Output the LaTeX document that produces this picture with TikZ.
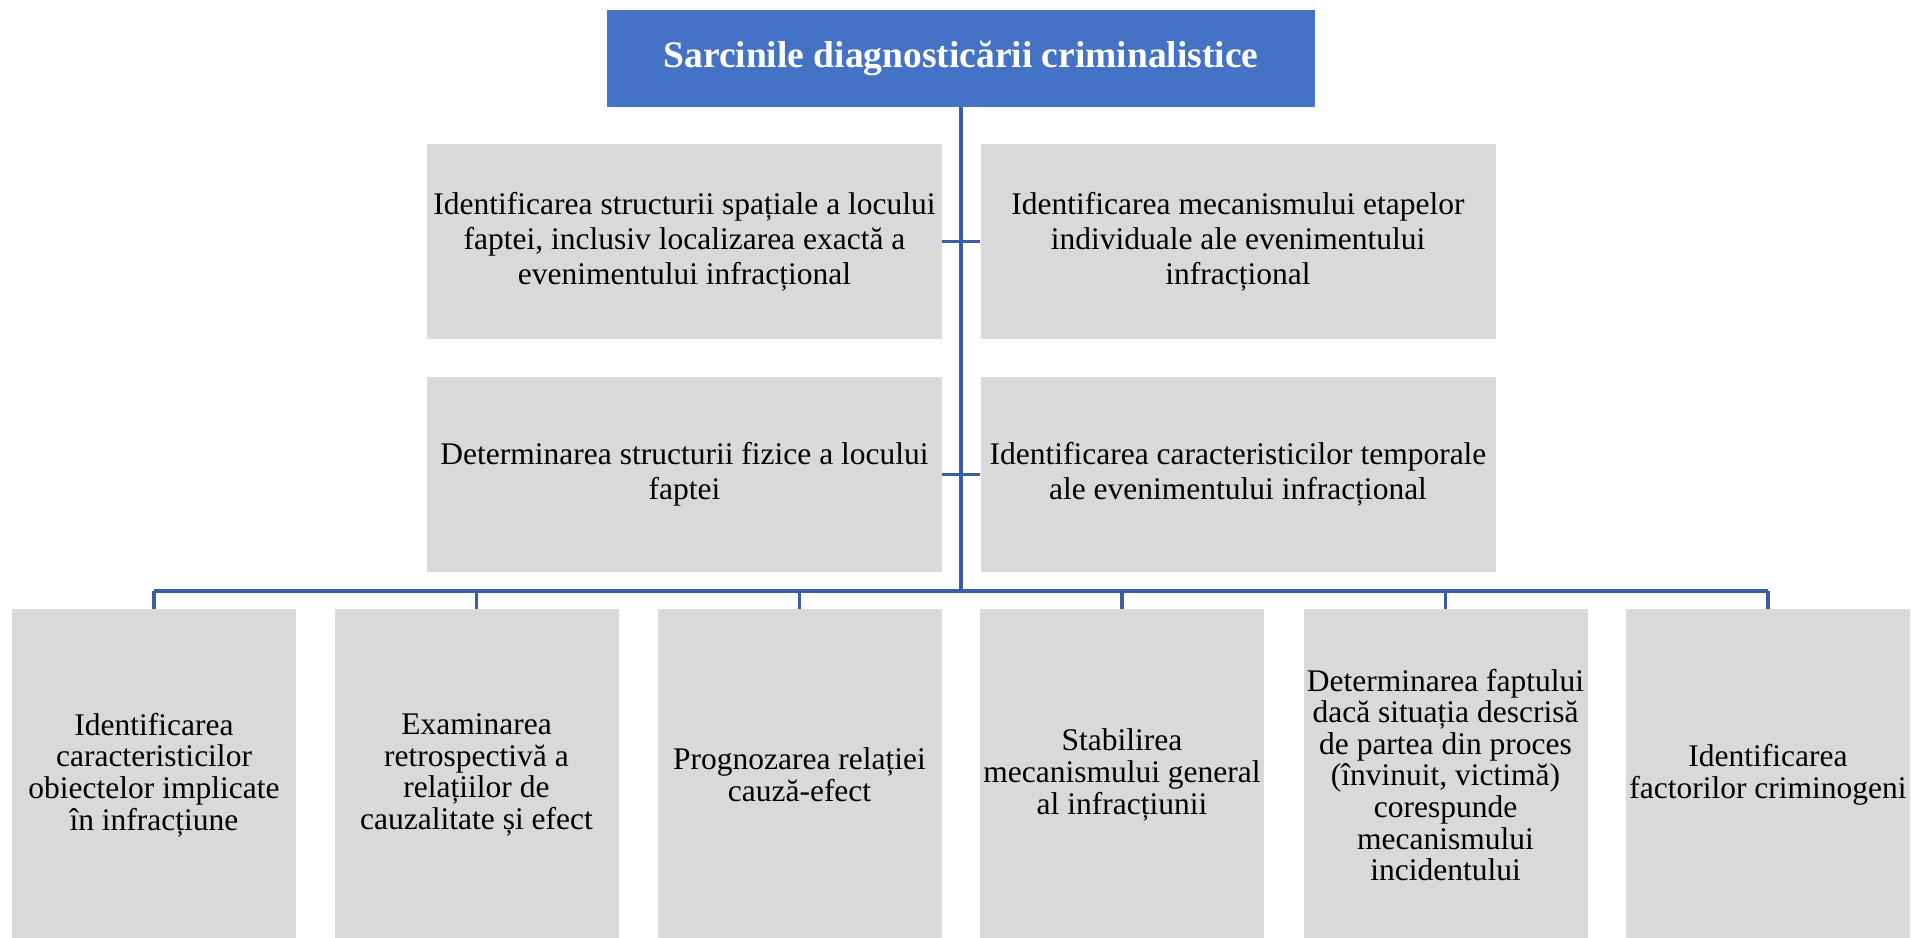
\documentclass[tikz,border=0pt]{standalone}
\usepackage{fontspec}
\setmainfont{Liberation Serif}
\definecolor{topblue}{HTML}{4472C4}
\definecolor{boxgray}{HTML}{D9D9D9}
\definecolor{linkblue}{HTML}{3A5DA6}
\begin{document}
\begin{tikzpicture}[x=1pt,y=-1pt,
  box/.style={rectangle,fill=boxgray,inner sep=0pt,align=center,text=black},
  rowbox/.style={box,minimum width=515pt,minimum height=195pt,
    font=\fontsize{31.5}{35}\selectfont},
  lowbox/.style={box,minimum width=284pt,minimum height=332pt,
    font=\fontsize{31.5}{31.6}\selectfont},
  titlebox/.style={rectangle,fill=topblue,inner sep=0pt,align=center,text=white,
    minimum width=708pt,minimum height=97pt,font=\fontsize{37.5}{44}\selectfont\bfseries},
  link/.style={draw=linkblue,line width=3.1pt}]
\useasboundingbox (0,0) rectangle (1911,937);
\fill[white] (0,0) rectangle (1911,937);

\node[titlebox] (top) at (961,58.5) {Sarcinile diagnosticării criminalistice};

\node[rowbox] (r1l) at (684.5,241.5) {Identificarea structurii spațiale a locului\\faptei, inclusiv localizarea exactă a\\evenimentului infracțional};
\node[rowbox] (r1r) at (1238,241.5) {Identificarea mecanismului etapelor\\individuale ale evenimentului\\infracțional};
\node[rowbox] (r2l) at (684.5,474.5) {Determinarea structurii fizice a locului\\faptei};
\node[rowbox] (r2r) at (1238,474.5) {Identificarea caracteristicilor temporale\\ale evenimentului infracțional};

\node[lowbox] (b1) at (154,775) {Identificarea\\caracteristicilor\\obiectelor implicate\\în infracțiune};
\node[lowbox] (b2) at (476.5,775) {Examinarea\\retrospectivă a\\relațiilor de\\cauzalitate și efect};
\node[lowbox] (b3) at (799.5,775) {Prognozarea relației\\cauză-efect};
\node[lowbox] (b4) at (1122,775) {Stabilirea\\mecanismului general\\al infracțiunii};
\node[lowbox] (b5) at (1445.5,775) {Determinarea faptului\\dacă situația descrisă\\de partea din proces\\(învinuit, victimă)\\corespunde\\mecanismului\\incidentului};
\node[lowbox] (b6) at (1768,775) {Identificarea\\factorilor criminogeni};

\coordinate (bus) at (961,591);
\draw[link] (top.south) -- (bus);
\draw[link] (b1.north |- bus) -- (b6.north |- bus);
\foreach \b in {b1,b2,b3,b4,b5,b6}{
  \draw[link] (\b.north |- bus) -- (\b.north);
}
\draw[link] (r1l.east) -- (r1r.west);
\draw[link] (r2l.east) -- (r2r.west);
\end{tikzpicture}
\end{document}
